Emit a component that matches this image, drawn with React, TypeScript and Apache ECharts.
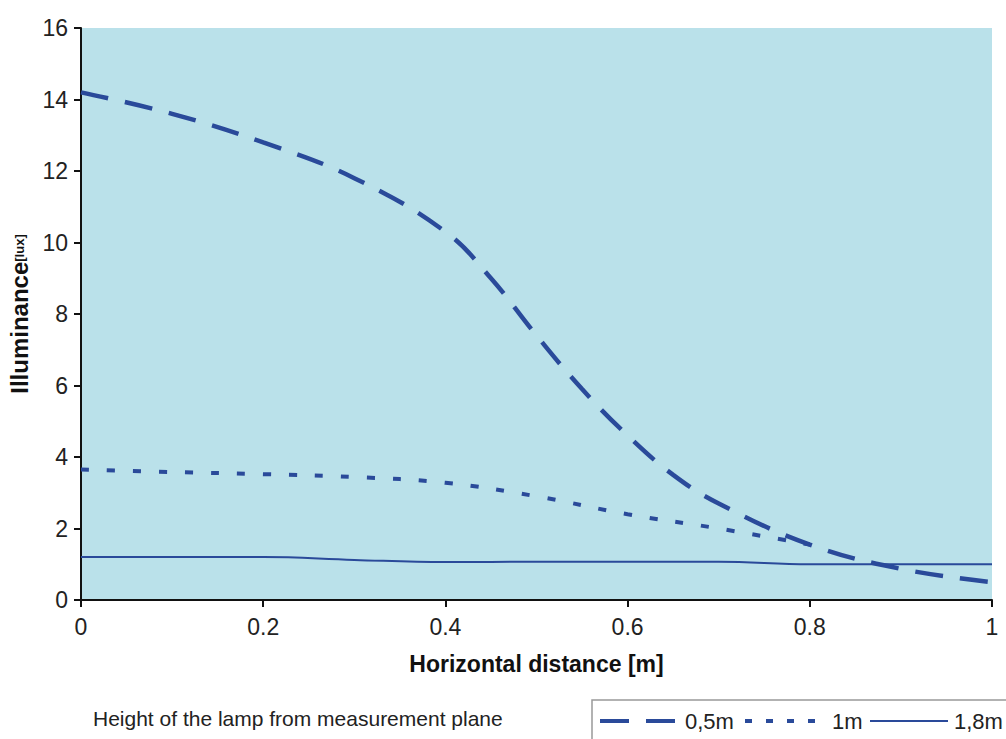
import React, { useEffect, useRef } from "react";
import * as echarts from "echarts";

const xHalf = [0, 0.1, 0.2, 0.3, 0.4, 0.45, 0.5, 0.55, 0.6, 0.65, 0.7, 0.8, 0.9, 1.0];
const yHalf = [14.2, 13.6, 12.8, 11.8, 10.3, 9.0, 7.4, 5.9, 4.6, 3.5, 2.7, 1.55, 0.87, 0.5];

const xOne = [0, 0.1, 0.2, 0.3, 0.4, 0.5, 0.6, 0.7, 0.8];
const yOne = [3.65, 3.58, 3.52, 3.44, 3.28, 2.9, 2.4, 2.0, 1.55];

const xOneEight = [0, 0.1, 0.2, 0.3, 0.4, 0.5, 0.6, 0.7, 0.8, 0.9, 1.0];
const yOneEight = [1.2, 1.2, 1.2, 1.12, 1.06, 1.07, 1.07, 1.07, 1.0, 1.0, 1.0];

const seriesNames = ["0,5m", "1m", "1,8m"];
const xTicks = [0, 0.2, 0.4, 0.6, 0.8, 1];

const LINE = "#2A4A9A";
const FONT = "Liberation Sans, Arial, sans-serif";

const pairs = (xs: number[], ys: number[]) => xs.map((x, i) => [x, ys[i]]);

export default function App() {
  const ref = useRef<HTMLDivElement>(null);
  useEffect(() => {
    if (!ref.current) return;
    const chart = echarts.init(ref.current, null, { renderer: "svg" });
    chart.setOption({
      animation: false,
      backgroundColor: "#ffffff",
      textStyle: { fontFamily: FONT },
      grid: {
        left: 81,
        top: 28,
        right: 14,
        bottom: 139,
        show: true,
        backgroundColor: "#BAE1EA",
        borderWidth: 0,
        containLabel: false,
        outerBoundsMode: "none",
      },
      xAxis: {
        type: "value",
        min: 0,
        max: 1,
        interval: 0.2,
        name: "Horizontal distance [m]",
        nameLocation: "middle",
        nameGap: 52,
        nameTextStyle: { fontSize: 23, fontWeight: "bold", color: "#111", fontFamily: FONT },
        axisLine: { lineStyle: { color: "#111", width: 2 } },
        axisTick: { show: true, length: 7, lineStyle: { color: "#111", width: 2 } },
        axisLabel: {
          fontSize: 23,
          color: "#222",
          margin: 15,
          fontFamily: FONT,
          formatter: (v: number) => {
            const t = xTicks.find((k) => Math.abs(k - v) < 1e-9);
            return t === undefined ? "" : String(t);
          },
        },
        splitLine: { show: false },
      },
      yAxis: {
        type: "value",
        min: 0,
        max: 16,
        interval: 2,
        name: "{a|Illuminance}{b|[lux]}",
        nameLocation: "middle",
        nameGap: 48,
        nameRotate: 90,
        nameTextStyle: {
          rich: {
            a: { fontSize: 24, fontWeight: "bold", color: "#111", fontFamily: FONT },
            b: { fontSize: 13, fontWeight: "bold", color: "#111", fontFamily: FONT },
          },
        },
        axisLine: { show: true, lineStyle: { color: "#111", width: 2 } },
        axisTick: { show: true, length: 7, lineStyle: { color: "#111", width: 2 } },
        axisLabel: { fontSize: 23, color: "#222", margin: 13, fontFamily: FONT },
        splitLine: { show: false },
      },
      graphic: [
        {
          type: "rect",
          z: 0,
          shape: { x: 592, y: 700, width: 430, height: 60 },
          style: { fill: "#ffffff", stroke: "#999999", lineWidth: 1.5 },
        },
        {
          type: "text",
          left: 93,
          top: 708,
          style: { text: "Height of the lamp from measurement plane", fontSize: 21, fill: "#222", fontFamily: FONT },
        },
        {
          type: "line",
          shape: { x1: 600, y1: 721, x2: 676, y2: 721 },
          style: { stroke: LINE, lineWidth: 4, lineDash: [29, 17] },
        },
        {
          type: "text",
          x: 685,
          y: 721,
          style: { text: seriesNames[0], fontSize: 22, fill: "#222", fontFamily: FONT, verticalAlign: "middle" },
        },
        {
          type: "line",
          shape: { x1: 745, y1: 721, x2: 815, y2: 721 },
          style: { stroke: LINE, lineWidth: 4, lineDash: [7, 14] },
        },
        {
          type: "text",
          x: 832,
          y: 721,
          style: { text: seriesNames[1], fontSize: 22, fill: "#222", fontFamily: FONT, verticalAlign: "middle" },
        },
        {
          type: "line",
          shape: { x1: 870, y1: 721, x2: 948, y2: 721 },
          style: { stroke: LINE, lineWidth: 2 },
        },
        {
          type: "text",
          x: 954,
          y: 721,
          style: { text: seriesNames[2], fontSize: 22, fill: "#222", fontFamily: FONT, verticalAlign: "middle" },
        },
      ],
      series: [
        {
          name: seriesNames[0],
          type: "line",
          data: pairs(xHalf, yHalf),
          smooth: 0.4,
          showSymbol: false,
          symbol: "none",
          lineStyle: { color: LINE, width: 4.5, type: [28, 17] },
          itemStyle: { color: LINE },
        },
        {
          name: seriesNames[1],
          type: "line",
          data: pairs(xOne, yOne),
          smooth: 0.4,
          showSymbol: false,
          symbol: "none",
          lineStyle: { color: LINE, width: 4, type: [8, 18] },
          itemStyle: { color: LINE },
        },
        {
          name: seriesNames[2],
          type: "line",
          data: pairs(xOneEight, yOneEight),
          smooth: 0.4,
          showSymbol: false,
          symbol: "none",
          lineStyle: { color: LINE, width: 2 },
          itemStyle: { color: LINE },
        },
      ],
    });
    return () => chart.dispose();
  }, []);
  return (
    <div
      ref={ref}
      style={{ position: "absolute", left: 0, top: 0, width: 1006, height: 739 }}
    />
  );
}
